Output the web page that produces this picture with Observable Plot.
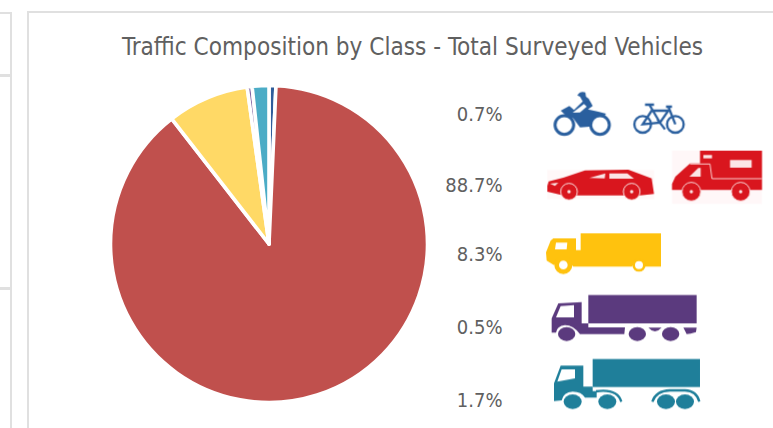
<!DOCTYPE html>
<html>
<head>
<meta charset="utf-8">
<script src="https://cdn.jsdelivr.net/npm/d3@7"></script>
<script src="https://cdn.jsdelivr.net/npm/@observablehq/plot@0.6"></script>
<style>
html,body{margin:0;padding:0;background:#fff;overflow:hidden}
#wrap{position:relative;width:773px;height:428px}
.p{position:absolute;box-sizing:border-box;border:2px solid #e0e0e0}
#wrap svg{position:absolute;left:0;top:0;background:transparent}
</style>
</head>
<body>
<div id="wrap">
<div class="p" style="left:-4px;top:12px;width:16px;height:64px"></div>
<div class="p" style="left:-4px;top:75px;width:16px;height:214px"></div>
<div class="p" style="left:-4px;top:288px;width:16px;height:200px"></div>
<div class="p" style="left:27px;top:11px;width:800px;height:500px"></div>
</div>
<script>
const titleText = "Traffic Composition by Class - Total Surveyed Vehicles";
const classes = ["Motorcycles and cycles", "Cars and vans", "Rigid trucks", "Articulated trucks", "Road trains"];
const shares = [0.7, 88.7, 8.3, 0.5, 1.7];
const pieColors = ["#2f5d9b", "#c0504d", "#ffd966", "#8064a2", "#4bacc6"];
const labelRows = [114, 185, 254, 327, 400];

const color = Plot.scale({color: {type: "ordinal", domain: classes, range: pieColors}});

function pieMark(index, scales, values, dim, ctx) {
  const g = d3.select(ctx.document.createElementNS("http://www.w3.org/2000/svg", "g"))
    .attr("transform", "translate(269,244)");
  const arcs = d3.pie().sort(null).value((d, i) => shares[i])(classes);
  const arc = d3.arc().innerRadius(0).outerRadius(158.5);
  g.selectAll("path").data(arcs).join("path")
    .attr("d", arc)
    .attr("fill", (d) => color.apply(d.data))
    .attr("stroke", "#fff")
    .attr("stroke-width", 3.6)
    .attr("stroke-linejoin", "round");
  return g.node();
}

const iconSvg = `
<g transform="translate(530,80) scale(0.3333)">
  <g fill="#2a5f9e">
    <path d="M92 92L118 78L132 90L158 64L150 50L142 46Q150 32 166 37L168 50L176 56L188 78L174 88L205 95L228 101L222 110L195 108L178 140L150 142L130 115L105 104Z"/>
    <path d="M128 98L162 72L170 80L150 97Z" fill="#fff"/>
  </g>
  <g fill="#fff" stroke="#2a5f9e">
    <circle cx="103" cy="135" r="28" stroke-width="9"/>
    <circle cx="210" cy="135" r="28" stroke-width="9"/>
  </g>
  <g fill="none" stroke="#2a5f9e" stroke-width="7">
    <circle cx="338" cy="133" r="25"/><circle cx="436" cy="133" r="25"/>
    <path d="M338 133L365 92H415L390 128ZM358 74L390 128M415 80L436 133M345 74H372M408 80H426M382 118L405 148"/>
  </g>
  <rect x="426" y="212" width="270" height="160" fill="#fff7f8"/>
  <rect x="52" y="270" width="320" height="88" fill="#fff8f8"/>
  <g fill="#d9161e">
    <path d="M52 318L56 304L100 293L165 271L295 269L365 295L372 342L330 346H100L52 335Z"/>
    <circle cx="117" cy="335" r="25" stroke="#fbe6e6" stroke-width="3"/>
    <circle cx="305" cy="335" r="25" stroke="#fbe6e6" stroke-width="3"/>
    <path d="M510 212H696V330H426V312L436 290L480 250H510Z"/>
    <circle cx="484" cy="335" r="28" stroke="#fbdcdc" stroke-width="3"/>
    <circle cx="632" cy="335" r="28" stroke="#fbdcdc" stroke-width="3"/>
  </g>
  <g fill="#fbe6e6">
    <path d="M178 294L226 280L224 295Z"/><path d="M238 280H292L312 296H238Z"/><path d="M60 311L85 308L75 318Z"/>
    <path d="M478 290L505 264H512V290Z"/><rect x="600" y="240" width="65" height="23"/><rect x="520" y="225" width="26" height="10"/>
    <circle cx="117" cy="335" r="5"/><circle cx="305" cy="335" r="5"/><circle cx="484" cy="335" r="5"/><circle cx="632" cy="335" r="5"/>
  </g>
  <path d="M480 252H540L546 296H696" fill="none" stroke="#fbd0d0" stroke-width="3"/>
</g>
<g transform="translate(530,220) scale(0.3333)">
  <path d="M48 97L62 62L70 55H138V90H152V40H393V140H345Q327 115 305 140H130Q100 105 72 135L50 122Z" fill="#ffc20e"/>
  <circle cx="100" cy="135" r="20" fill="#fff" stroke="#ffc20e" stroke-width="14"/>
  <circle cx="327" cy="135" r="16" fill="#fff" stroke="#ffc20e" stroke-width="8"/>
  <path d="M78 68H112L110 88H75Z" fill="#fff"/>
  <g fill="#5b3a7e">
    <rect x="175" y="225" width="325" height="85"/>
    <path fill-rule="evenodd" d="M65 338V295L85 250L155 246V310H175V322H285L283 342H150Q130 315 105 315Q80 318 78 338ZM78 292L92 258L132 255V292Z"/>
    <ellipse cx="110" cy="342" rx="26" ry="21"/><ellipse cx="322" cy="342" rx="26" ry="21"/><ellipse cx="422" cy="342" rx="26" ry="21"/>
    <path d="M355 323H395Q375 345 355 323ZM460 323H500L498 336Q480 342 470 342Q465 332 460 323Z"/>
  </g>
  <g fill="#1f7f9a">
    <rect x="188" y="417" width="322" height="84"/>
    <path fill-rule="evenodd" d="M72 543V490L92 437H160V500H188V513H200V533H165Q155 515 128 515Q100 517 95 541ZM82 485L95 448H135V475Z"/>
    <ellipse cx="128" cy="545" rx="27" ry="22"/><ellipse cx="232" cy="545" rx="27" ry="22"/><ellipse cx="408" cy="545" rx="27" ry="22"/><ellipse cx="465" cy="545" rx="27" ry="22"/>
  </g>
  <path d="M198 514Q262 505 274 545M367 545Q378 512 420 511H465Q500 512 508 545" fill="none" stroke="#1f7f9a" stroke-width="7"/>
</g>`;

function iconMark(index, scales, values, dim, ctx) {
  const g = ctx.document.createElementNS("http://www.w3.org/2000/svg", "g");
  g.innerHTML = iconSvg;
  g.setAttribute("style", "filter:blur(0.4px)");
  return g;
}

const chart = Plot.plot({
  width: 773,
  height: 428,
  margin: 0,
  style: {background: "transparent"},
  y: {type: "ordinal", domain: classes, range: labelRows, axis: null},
  marks: [
    pieMark,
    iconMark,
    Plot.text([titleText], {
      frameAnchor: "top", dx: 25.5, dy: 37,
      fontFamily: "'DejaVu Sans Condensed','DejaVu Sans'", fontSize: 24.1, fill: "#606060", textAnchor: "middle"
    }),
    Plot.text(classes, {
      y: (d) => d,
      text: (d, i) => shares[i].toFixed(1) + "%",
      frameAnchor: "left", dx: 502, textAnchor: "end",
      fontFamily: "'DejaVu Sans Condensed','DejaVu Sans'", fontSize: 20, fill: "#606060"
    })
  ]
});
document.getElementById("wrap").appendChild(chart);
</script>
</body>
</html>
